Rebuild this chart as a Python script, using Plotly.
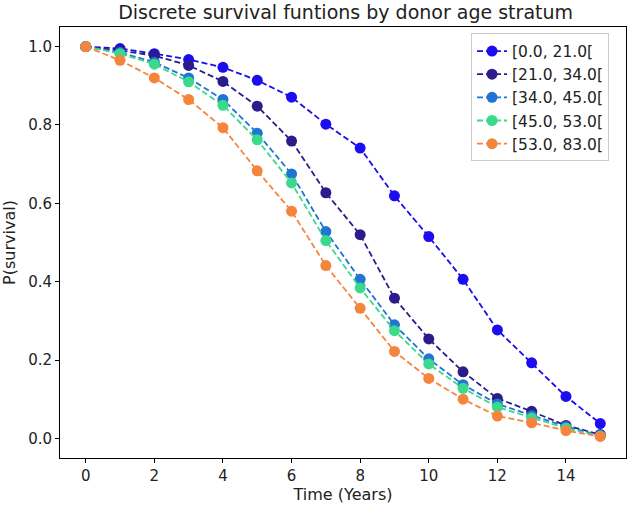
import plotly.graph_objects as go

time_years = list(range(16))
strata = ["[0.0, 21.0[", "[21.0, 34.0[", "[34.0, 45.0[", "[45.0, 53.0[", "[53.0, 83.0["]
s_0_21 = [1.0, 0.995, 0.982, 0.967, 0.947, 0.914, 0.871, 0.802, 0.741, 0.619, 0.515, 0.406, 0.277, 0.193, 0.107, 0.038]
s_21_34 = [1.0, 0.99, 0.977, 0.952, 0.911, 0.848, 0.759, 0.627, 0.52, 0.358, 0.254, 0.17, 0.102, 0.069, 0.033, 0.01]
s_34_45 = [1.0, 0.985, 0.96, 0.92, 0.865, 0.779, 0.675, 0.528, 0.406, 0.29, 0.203, 0.137, 0.088, 0.058, 0.03, 0.008]
s_45_53 = [1.0, 0.982, 0.955, 0.91, 0.85, 0.762, 0.652, 0.505, 0.384, 0.275, 0.19, 0.128, 0.08, 0.052, 0.026, 0.006]
s_53_83 = [1.0, 0.965, 0.92, 0.865, 0.793, 0.683, 0.58, 0.441, 0.332, 0.222, 0.153, 0.1, 0.057, 0.04, 0.02, 0.005]
series = [s_0_21, s_21_34, s_34_45, s_45_53, s_53_83]
colors = ["#1c0cf0", "#2b1c8c", "#1f74d4", "#3ad98c", "#f5843c"]

fig = go.Figure()
for name, vals, c in zip(strata, series, colors):
    fig.add_trace(go.Scatter(
        x=time_years, y=vals, name=name, mode="lines+markers",
        line=dict(color=c, width=1.8, dash="6px,3px"),
        marker=dict(color=c, size=11),
    ))

font = "DejaVu Sans, sans-serif"
fig.update_layout(
    width=640, height=507,
    margin=dict(l=60, r=14, t=27, b=49),
    paper_bgcolor="white", plot_bgcolor="white",
    font=dict(family=font, size=15, color="#222"),
    title=dict(text="Discrete survival funtions by donor age stratum", x=0.54, xanchor="center",
               y=0.975, yanchor="middle", font=dict(size=19, color="#222"), automargin=False),
    showlegend=True,
    legend=dict(x=0.97, xanchor="right", y=0.985, yanchor="top",
                bordercolor="#cccccc", borderwidth=1, bgcolor="white",
                font=dict(size=15.5), tracegroupgap=0, itemwidth=30),
    xaxis=dict(range=[-0.75, 15.75], tickvals=[0, 2, 4, 6, 8, 10, 12, 14],
               showgrid=False, zeroline=False, showline=True, linecolor="black", linewidth=1,
               mirror=True, ticks="outside", ticklen=4, tickcolor="black", automargin=False,
               title=dict(text="Time (Years)", standoff=4, font=dict(size=16)), tickfont=dict(size=15)),
    yaxis=dict(range=[-0.05, 1.05], tickvals=[0, 0.2, 0.4, 0.6, 0.8, 1.0],
               tickformat=".1f", automargin=False,
               showgrid=False, zeroline=False, showline=True, linecolor="black", linewidth=1,
               mirror=True, ticks="outside", ticklen=4, tickcolor="black",
               title=dict(text="P(survival)", standoff=12, font=dict(size=16)), tickfont=dict(size=15)),
)
fig.write_html("out.html", config={"displayModeBar": False},
               post_script="document.body.style.margin='0';document.body.style.overflow='hidden';")
